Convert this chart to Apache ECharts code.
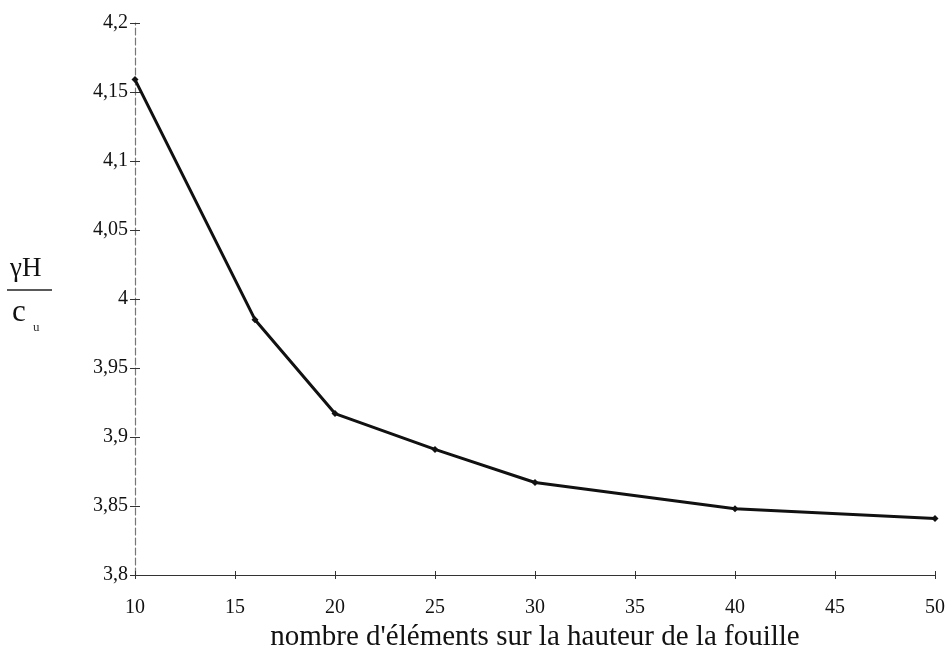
<!DOCTYPE html>
<html>
<head>
<meta charset="utf-8">
<script src="https://cdn.jsdelivr.net/npm/echarts@6/dist/echarts.min.js"></script>
<style>
  html, body { margin: 0; padding: 0; background: #fff; }
  #chart { width: 950px; height: 652px; }
</style>
</head>
<body>
<div id="chart"></div>
<script>
// Number of elements over the excavation height vs. stability ratio γH/cu
const elementCounts = [10, 16, 20, 25, 30, 40, 50];
const ratioValues = [4.159, 3.985, 3.917, 3.891, 3.867, 3.848, 3.841];
const xTicks = [10, 15, 20, 25, 30, 35, 40, 45, 50];
const yTicks = [3.8, 3.85, 3.9, 3.95, 4, 4.05, 4.1, 4.15, 4.2];
const xTitle = "nombre d'éléments sur la hauteur de la fouille";

const serif = '"Liberation Serif", "DejaVu Serif", serif';
const fmt = v => String(+(+v).toFixed(2)).replace('.', ',');

const chart = echarts.init(document.getElementById('chart'), null, { renderer: 'canvas' });

chart.setOption({
  backgroundColor: '#ffffff',
  animation: false,
  grid: { left: 135, right: 15, top: 23, bottom: 77, containLabel: false, outerBoundsMode: 'none' },
  xAxis: [{
    type: 'value',
    min: xTicks[0],
    max: xTicks[xTicks.length - 1],
    interval: 5,
    name: xTitle,
    nameLocation: 'middle',
    nameGap: 47,
    nameTextStyle: { fontFamily: serif, fontSize: 29, color: '#111' },
    axisLine: { show: true, lineStyle: { color: '#333', width: 1.2 } },
    axisTick: { show: true, inside: false, length: 4, lineStyle: { color: '#333' } },
    axisLabel: { fontFamily: serif, fontSize: 20, color: '#111', margin: 23, formatter: fmt },
    splitLine: { show: false }
  }, {
    type: 'value',
    position: 'bottom',
    min: xTicks[0],
    max: xTicks[xTicks.length - 1],
    interval: 5,
    axisLine: { show: false },
    axisTick: { show: true, inside: true, length: 4, lineStyle: { color: '#333' } },
    axisLabel: { show: false },
    splitLine: { show: false }
  }],
  yAxis: [{
    type: 'value',
    min: yTicks[0],
    max: yTicks[yTicks.length - 1],
    interval: 0.05,
    axisLine: { show: true, lineStyle: { color: '#777', width: 1.2, type: [7, 3] } },
    axisTick: { show: true, inside: false, length: 5, lineStyle: { color: '#333' } },
    axisLabel: { fontFamily: serif, fontSize: 20, color: '#111', margin: 7, formatter: fmt },
    splitLine: { show: false }
  }, {
    type: 'value',
    position: 'left',
    min: yTicks[0],
    max: yTicks[yTicks.length - 1],
    interval: 0.05,
    axisLine: { show: false },
    axisTick: { show: true, inside: true, length: 5, lineStyle: { color: '#333' } },
    axisLabel: { show: false },
    splitLine: { show: false }
  }],
  graphic: [
    { type: 'text', left: 10, top: 255, style: { text: 'γH', font: '27px ' + serif, fill: '#111' } },
    { type: 'line', shape: { x1: 7, y1: 290, x2: 52, y2: 290 }, style: { stroke: '#222', lineWidth: 1.5 } },
    { type: 'text', left: 12, top: 297, style: { text: 'c', font: '31px ' + serif, fill: '#111' } },
    { type: 'text', left: 33, top: 321, style: { text: 'u', font: '13px ' + serif, fill: '#333' } }
  ],
  series: [{
    type: 'line',
    xAxisIndex: 0,
    yAxisIndex: 0,
    data: elementCounts.map((x, i) => [x, ratioValues[i]]),
    symbol: 'diamond',
    symbolSize: 7,
    showSymbol: true,
    lineStyle: { color: '#111', width: 3 },
    itemStyle: { color: '#111' },
    z: 5
  }]
});
</script>
</body>
</html>
